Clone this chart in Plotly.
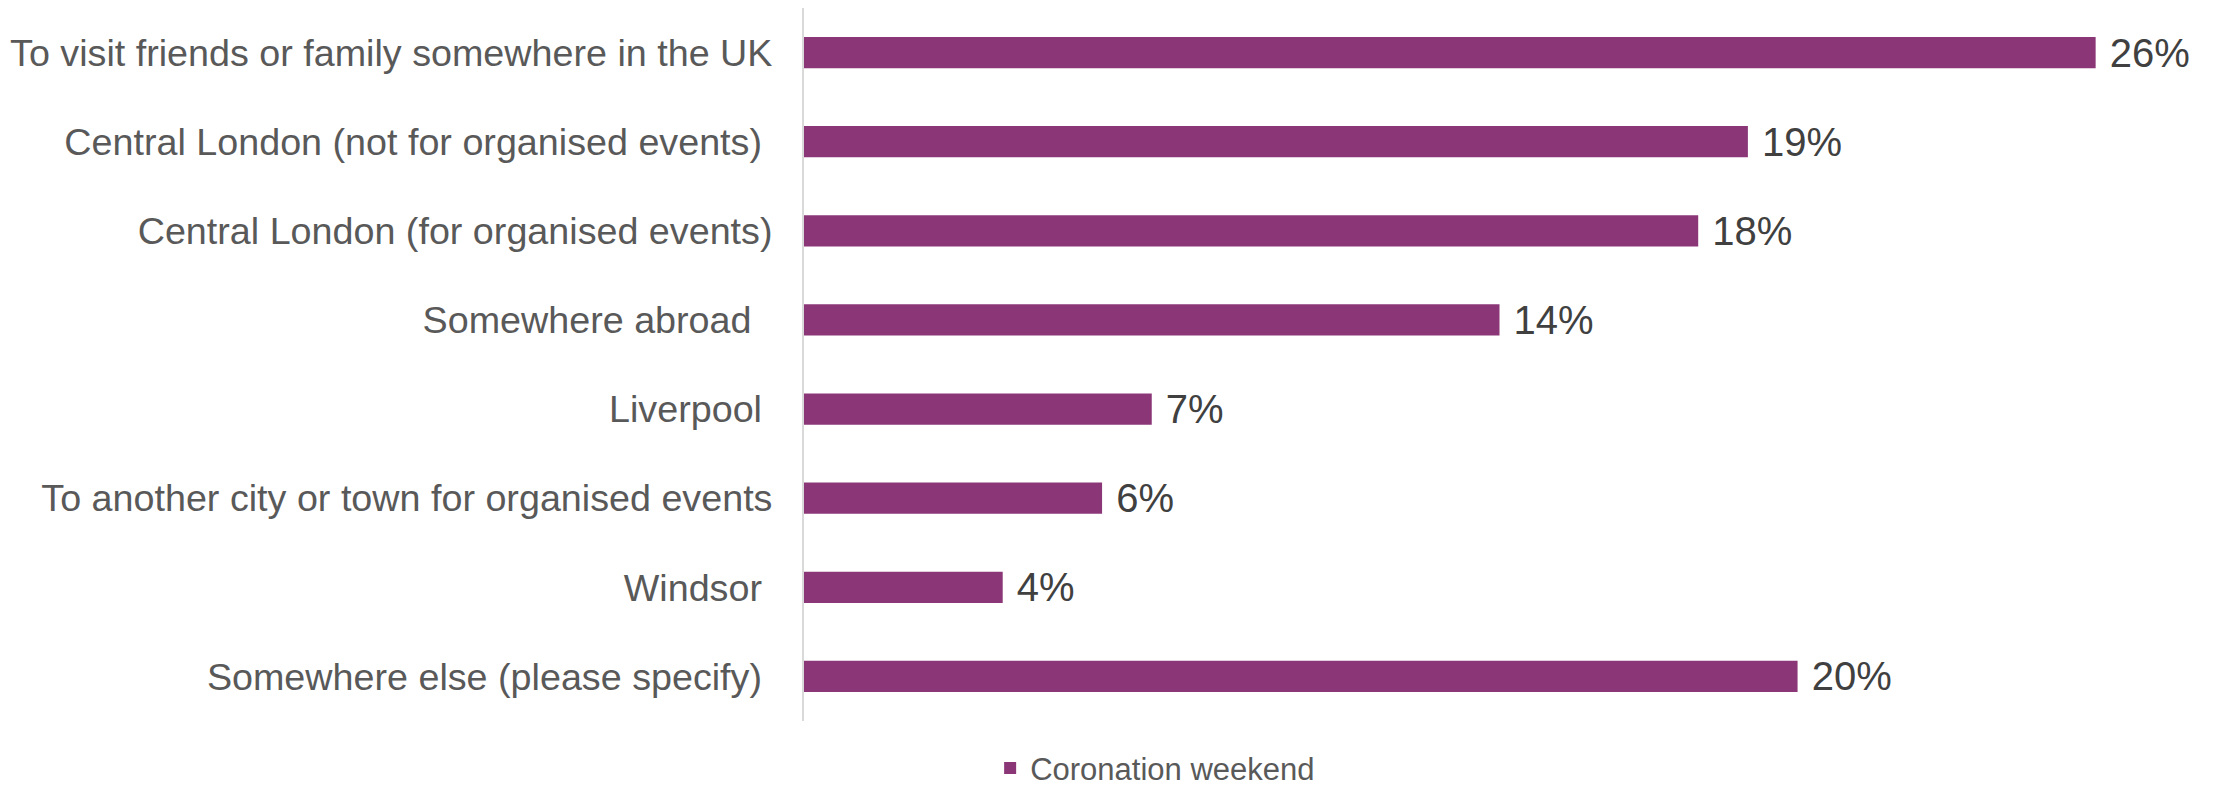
import plotly.graph_objects as go

categories = [
    "To visit friends or family somewhere in the UK",
    "Central London (not for organised events) ",
    "Central London (for organised events)",
    "Somewhere abroad  ",
    "Liverpool ",
    "To another city or town for organised events",
    "Windsor ",
    "Somewhere else (please specify) ",
]
values = [0.26, 0.19, 0.18, 0.14, 0.07, 0.06, 0.04, 0.20]
series_name = "Coronation weekend"

# preserve trailing spaces in tick labels
tick_text = [c.rstrip() + "\u00a0" * (len(c) - len(c.rstrip())) for c in categories]

fig = go.Figure()
fig.add_trace(go.Bar(
    y=categories,
    x=values,
    orientation="h",
    name=series_name,
    marker=dict(color="#8B3677", line=dict(width=0)),
    texttemplate="\u00a0%{x:.0%}",
    textposition="outside",
    textfont=dict(family="Liberation Sans, Arial, sans-serif", size=40, color="#404040"),
    constraintext="none",
    cliponaxis=False,
    showlegend=True,
))

fig.update_layout(
    width=2217,
    height=787,
    margin=dict(l=796, r=30, t=0, b=74),
    paper_bgcolor="white",
    plot_bgcolor="white",
    bargap=0.65,
    font=dict(family="Liberation Sans, Arial, sans-serif", color="#595959"),
    xaxis=dict(
        range=[0, 0.28],
        showgrid=False,
        zeroline=False,
        showticklabels=False,
        showline=False,
        ticks="",
    ),
    yaxis=dict(
        autorange="reversed",
        tickmode="array",
        tickvals=categories,
        ticktext=tick_text,
        tickfont=dict(size=37.7, color="#595959"),
        showgrid=False,
        zeroline=False,
        showline=True,
        linecolor="#d9d9d9",
        linewidth=2,
        ticks="",
        ticklabelstandoff=22,
    ),
    showlegend=True,
    legend=dict(
        orientation="h",
        xref="container",
        yref="container",
        x=0.443,
        xanchor="left",
        y=0.034,
        yanchor="middle",
        font=dict(size=31, color="#595959"),
        bgcolor="rgba(0,0,0,0)",
    ),
)

fig.write_html("out.html")
